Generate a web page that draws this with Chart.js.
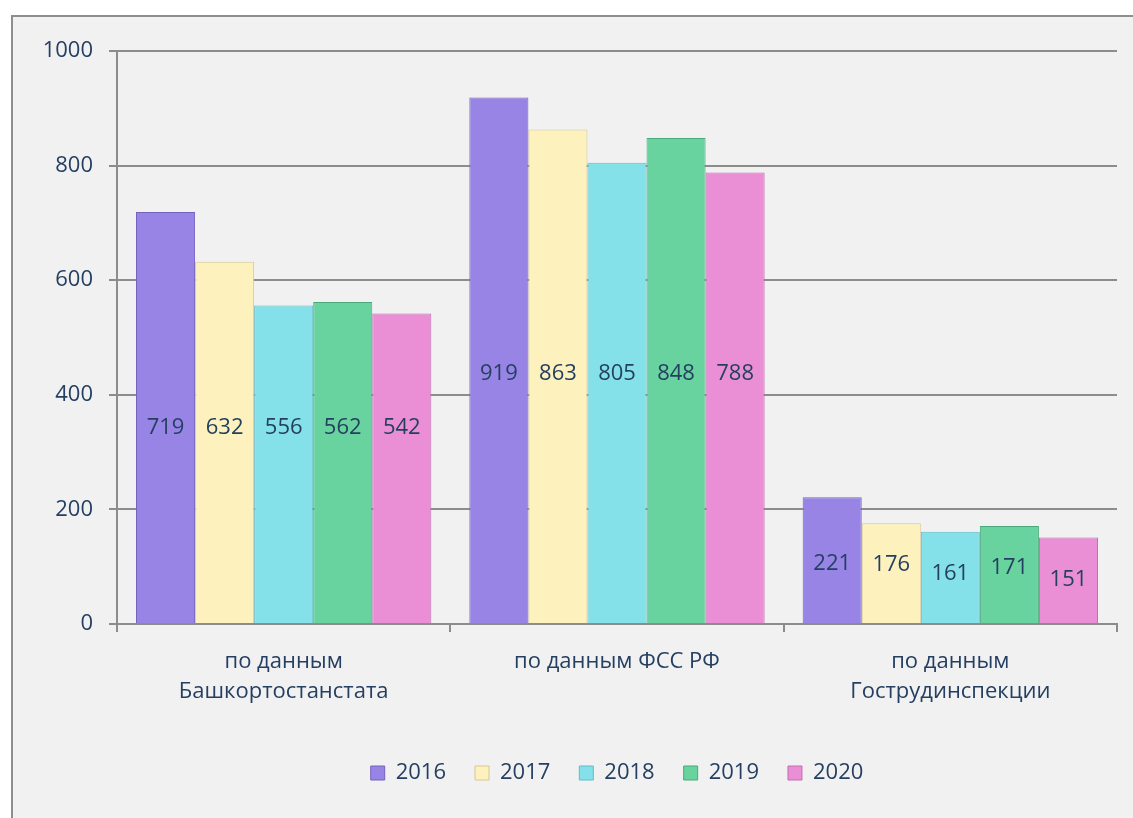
<!DOCTYPE html>
<html lang="ru">
<head>
<meta charset="utf-8">
<title>Chart</title>
<script src="https://cdn.jsdelivr.net/npm/chart.js@4.4.0/dist/chart.umd.min.js"></script>
<style>
  html, body { margin: 0; padding: 0; background: #ffffff; }
  canvas { display: block; }
</style>
</head>
<body>
<canvas id="barChart" width="1133" height="818"></canvas>
<script>
// データ
const categories = [['по данным', 'Башкортостанстата'], 'по данным ФСС РФ', ['по данным', 'Гострудинспекции']];
const years = ['2016', '2017', '2018', '2019', '2020'];
const values2016 = [719, 919, 221];
const values2017 = [632, 863, 176];
const values2018 = [556, 805, 161];
const values2019 = [562, 848, 171];
const values2020 = [542, 788, 151];
const yTicks = [0, 200, 400, 600, 800, 1000];

const fillColors = ['#9784e4', '#fdf1bd', '#84e1ea', '#68d39e', '#ea8fd6'];
const edgeColors = ['#7563bd', '#d6c894', '#62bcc5', '#4aa97a', '#c26eb0'];
const textColor = '#243f61';
const fontFamily = '"Open Sans", "Noto Sans", sans-serif';

const seriesValues = [values2016, values2017, values2018, values2019, values2020];

// 背景と枠線
const backgroundPlugin = {
    id: 'panelBackground',
    beforeDraw(chart) {
        const c = chart.ctx;
        c.save();
        c.fillStyle = '#ffffff';
        c.fillRect(0, 0, chart.width, chart.height);
        c.fillStyle = '#f1f1f1';
        c.fillRect(11, 15, chart.width - 11, chart.height - 15);
        c.strokeStyle = '#8e8e8e';
        c.lineWidth = 2;
        c.beginPath();
        c.moveTo(12, chart.height);
        c.lineTo(12, 16);
        c.lineTo(chart.width, 16);
        c.stroke();
        c.restore();
    }
};

// 値ラベル（グループ内でほぼ同じ高さ、棒の上端近くでは下げる）
const valueLabelPlugin = {
    id: 'valueLabels',
    afterDatasetsDraw(chart) {
        const c = chart.ctx;
        const metas = chart.data.datasets.map((ds, i) => chart.getDatasetMeta(i));
        c.save();
        c.font = '22px ' + fontFamily;
        c.fillStyle = textColor;
        c.textAlign = 'center';
        c.textBaseline = 'middle';
        categories.forEach((cat, j) => {
            const maxH = Math.max(...metas.map(m => m.data[j].base - m.data[j].y));
            metas.forEach((m, i) => {
                const bar = m.data[j];
                const level = bar.base - 0.475 * maxH;
                const y = Math.max(level, bar.y + 42);
                c.fillText(String(chart.data.datasets[i].data[j]), bar.x, y);
            });
        });
        c.restore();
    }
};

const ctx = document.getElementById('barChart');

new Chart(ctx, {
    type: 'bar',
    data: {
        labels: categories,
        datasets: years.map((year, i) => ({
            label: year,
            data: seriesValues[i],
            backgroundColor: fillColors[i],
            borderColor: edgeColors[i],
            borderWidth: 1,
            categoryPercentage: 0.886,
            barPercentage: 1.0
        }))
    },
    options: {
        responsive: false,
        animation: false,
        layout: { padding: { left: 0, right: 16, top: 51, bottom: 24 } },
        scales: {
            x: {
                grid: {
                    drawOnChartArea: false,
                    drawTicks: true,
                    tickLength: 8,
                    color: '#8c8c8c',
                    lineWidth: 2
                },
                border: { color: '#8c8c8c', width: 2 },
                ticks: {
                    color: textColor,
                    font: { family: fontFamily, size: 22, lineHeight: 1.36 },
                    padding: 15,
                    maxRotation: 0
                },
                afterFit(scale) { scale.height = 109; }
            },
            y: {
                min: 0,
                max: 1000,
                afterBuildTicks(scale) { scale.ticks = yTicks.map(v => ({ value: v })); },
                grid: {
                    color: '#8c8c8c',
                    lineWidth: 2,
                    tickLength: 8
                },
                border: { color: '#8c8c8c', width: 2 },
                ticks: {
                    color: textColor,
                    font: { family: fontFamily, size: 22 },
                    padding: 16,
                    callback: (v) => String(v)
                },
                afterFit(scale) { scale.width = 117; }
            }
        },
        plugins: {
            legend: {
                position: 'bottom',
                fullSize: false,
                labels: {
                    boxWidth: 14,
                    boxHeight: 14,
                    padding: 29,
                    color: textColor,
                    font: { family: fontFamily, size: 22 }
                }
            },
            tooltip: { enabled: false }
        }
    },
    plugins: [backgroundPlugin, valueLabelPlugin]
});
</script>
</body>
</html>
